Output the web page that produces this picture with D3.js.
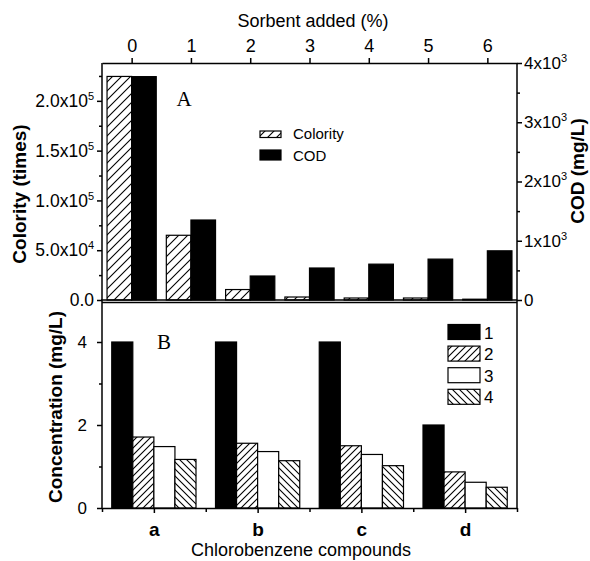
<!DOCTYPE html>
<html><head><meta charset="utf-8">
<script src="https://cdn.jsdelivr.net/npm/d3@7"></script>
<style>body{margin:0;background:#fff}svg{display:block}text{font-family:"Liberation Sans",Arial,sans-serif}</style>
</head><body><svg id="c" width="590" height="561"></svg>
<script>
// ---- data ----
const sorbent = [0,1,2,3,4,5,6];
const colority = [224500, 65000, 10500, 3000, 2000, 2000, 800];
const cod = [3770, 1350, 405, 540, 605, 690, 830];
const leftTicks = [0, 5e4, 1e5, 1.5e5, 2e5];
const leftTickLabels = [["0.0",""],["5.0x10","4"],["1.0x10","5"],["1.5x10","5"],["2.0x10","5"]];
const rightTicks = [0,1000,2000,3000,4000];
const rightTickLabels = [["0",""],["1x10","3"],["2x10","3"],["3x10","3"],["4x10","3"]];
const compounds = ["a","b","c","d"];
const conc1 = [4.0,4.0,4.0,2.0];
const conc2 = [1.71,1.56,1.50,0.87];
const conc3 = [1.48,1.36,1.29,0.62];
const conc4 = [1.17,1.14,1.02,0.50];
const concTicks = [0,2,4];
const seriesB = ["1","2","3","4"];
const seriesA = ["Colority","COD"];

const svg = d3.select("#c");
const defs = svg.append("defs");
function hatch(id, size, dir){
  const p = defs.append("pattern").attr("id",id).attr("patternUnits","userSpaceOnUse")
    .attr("width",size).attr("height",size);
  p.append("rect").attr("width",size).attr("height",size).attr("fill","#fff");
  const s=size;
  const d = dir==="/" ? `M0,${s} L${s},0 M${-s/4},${s/4} L${s/4},${-s/4} M${s*3/4},${s*5/4} L${s*5/4},${s*3/4}`
                      : `M0,0 L${s},${s} M${-s/4},${s*3/4} L${s/4},${s*5/4} M${s*3/4},${-s/4} L${s*5/4},${s/4}`;
  p.append("path").attr("d",d).attr("stroke","#000").attr("stroke-width",1.1);
}
hatch("hA", 9, "/");
hatch("h2", 7, "/");
hatch("h4", 7, "\\");

// ---- scales ----
const L=102, R=517, T=63, M=300, B=508;
const xTop = d3.scaleLinear().domain([-0.5,6.5]).range([L,R]);
const yL = d3.scaleLinear().domain([0,2.38e5]).range([M,T]);
const yR = d3.scaleLinear().domain([0,4000]).range([M,T]);
const xB = d3.scaleLinear().domain([-0.5,3.5]).range([L,R]);
const yB = d3.scaleLinear().domain([0,5]).range([B,M+0.5]);

const wA = 0.415, wB = 0.203;

// ---- top panel bars ----
const gA = svg.append("g");
gA.selectAll("rect.col").data(sorbent).join("rect")
  .attr("x",(d)=>xTop(d-wA)).attr("width",xTop(wA)-xTop(0))
  .attr("y",(d,i)=>yL(colority[i])).attr("height",(d,i)=>M-yL(colority[i]))
  .attr("fill","url(#hA)").attr("stroke","#000").attr("stroke-width",1.2);
gA.selectAll("rect.cod").data(sorbent).join("rect")
  .attr("x",(d)=>xTop(d)).attr("width",xTop(wA)-xTop(0))
  .attr("y",(d,i)=>yR(cod[i])).attr("height",(d,i)=>M-yR(cod[i]))
  .attr("fill","#000").attr("stroke","#000").attr("stroke-width",1.2);

// ---- bottom panel bars ----
const concs=[conc1,conc2,conc3,conc4];
const fills=["#000","url(#h2)","#fff","url(#h4)"];
const gB = svg.append("g");
concs.forEach((arr,k)=>{
  gB.selectAll(null).data(compounds).join("rect")
    .attr("x",(d,i)=>xB(i+(k-2)*wB)).attr("width",xB(wB)-xB(0))
    .attr("y",(d,i)=>yB(arr[i])).attr("height",(d,i)=>B-yB(arr[i]))
    .attr("fill",fills[k]).attr("stroke","#000").attr("stroke-width",1.2);
});

// ---- axes ----
function styleAxis(g){
  g.selectAll("path,line").attr("stroke","#000").attr("stroke-width",1.5);
  g.attr("font-family",null).attr("font-size",null);
  g.selectAll("text").attr("fill","#000");
}
function supLabels(g, labels){
  g.selectAll(".tick text").each(function(d,i){
    const t=d3.select(this); t.text(null);
    t.append("tspan").text(labels[i][0]);
    if(labels[i][1]) t.append("tspan").attr("dy",-7).attr("font-size",11).text(labels[i][1]);
  });
}
const fmtInt = d3.format("d");
// top x axis
const axT = svg.append("g").attr("transform",`translate(0,${T})`)
  .call(d3.axisTop(xTop).tickValues(sorbent).tickFormat(fmtInt).tickSize(5).tickSizeOuter(0).tickPadding(6));
styleAxis(axT); axT.selectAll("text").attr("font-size",18);
// left axis A
const axL = svg.append("g").attr("transform",`translate(${L},0)`)
  .call(d3.axisLeft(yL).tickValues(leftTicks).tickSize(5).tickSizeOuter(0).tickPadding(3));
styleAxis(axL); axL.selectAll("text").attr("font-size",17.5); supLabels(axL,leftTickLabels);
axL.select("path").remove();
svg.append("g").attr("transform",`translate(${L},0)`)
  .call(d3.axisLeft(yL).tickValues(d3.range(2.5e4,2.3e5,5e4)).tickSize(3).tickFormat(()=>""))
  .call(g=>{g.select("path").remove(); styleAxis(g);});
// right axis A
const axR = svg.append("g").attr("transform",`translate(${R},0)`)
  .call(d3.axisRight(yR).tickValues(rightTicks).tickSize(5).tickSizeOuter(0).tickPadding(2));
styleAxis(axR); axR.selectAll("text").attr("font-size",17); supLabels(axR,rightTickLabels);
axR.select("path").remove();
svg.append("g").attr("transform",`translate(${R},0)`)
  .call(d3.axisRight(yR).tickValues(d3.range(500,4000,1000)).tickSize(3).tickFormat(()=>""))
  .call(g=>{g.select("path").remove(); styleAxis(g);});
// left axis B
const axLB = svg.append("g").attr("transform",`translate(${L},0)`)
  .call(d3.axisLeft(yB).tickValues(concTicks).tickFormat(fmtInt).tickSize(5).tickSizeOuter(0).tickPadding(10));
styleAxis(axLB); axLB.selectAll("text").attr("font-size",17); axLB.select("path").remove();
svg.append("g").attr("transform",`translate(${L},0)`)
  .call(d3.axisLeft(yB).tickValues([1,3]).tickSize(3).tickFormat(()=>""))
  .call(g=>{g.select("path").remove(); styleAxis(g);});
// bottom axis B
const axBB = svg.append("g").attr("transform",`translate(0,${B})`)
  .call(d3.axisBottom(xB).tickValues([0,1,2,3]).tickSize(5).tickSizeOuter(0).tickPadding(10)
    .tickFormat((d)=>compounds[d]));
styleAxis(axBB); axBB.selectAll("text").attr("font-size",19).attr("font-weight","bold");
svg.append("g").attr("transform",`translate(0,${B})`)
  .call(d3.axisBottom(xB).tickValues([-0.5,0.5,1.5,2.5,3.5]).tickSize(4).tickFormat(()=>""))
  .call(g=>{g.select("path").remove(); styleAxis(g);});

// frame lines
const frame = svg.append("g").attr("stroke","#000").attr("stroke-width",1.5);
frame.append("line").attr("x1",L).attr("x2",L).attr("y1",T).attr("y2",B);
frame.append("line").attr("x1",R).attr("x2",R).attr("y1",T).attr("y2",B);
frame.append("line").attr("x1",L-1).attr("x2",R).attr("y1",M).attr("y2",M);
frame.append("line").attr("x1",L).attr("x2",R).attr("y1",M+2.5).attr("y2",M+2.5);

// ---- titles ----
svg.append("text").attr("x",313).attr("y",26.5).attr("text-anchor","middle").attr("font-size",18).text("Sorbent added (%)");
svg.append("text").attr("x",301).attr("y",556).attr("text-anchor","middle").attr("font-size",18).text("Chlorobenzene compounds");
svg.append("text").attr("transform","translate(25.5,194) rotate(-90)").attr("text-anchor","middle")
  .attr("font-size",19).attr("font-weight","bold").text("Colority (times)");
svg.append("text").attr("transform","translate(584,171) rotate(-90)").attr("text-anchor","middle")
  .attr("font-size",19).attr("font-weight","bold").text("COD (mg/L)");
svg.append("text").attr("transform","translate(62,407) rotate(-90)").attr("text-anchor","middle")
  .attr("font-size",19).attr("font-weight","bold").text("Concentration (mg/L)");
svg.append("text").attr("x",184).attr("y",106).attr("text-anchor","middle").attr("font-size",21)
  .style("font-family","'Liberation Serif','Times New Roman',serif").text("A");
svg.append("text").attr("x",164).attr("y",348.5).attr("text-anchor","middle").attr("font-size",21)
  .style("font-family","'Liberation Serif','Times New Roman',serif").text("B");

// ---- legends ----
const legA = svg.append("g");
const legAfill=["url(#hA)","#000"], legAy=[131,150], legAh=[6.5,10], legAbase=[138.7,160.5];
seriesA.forEach((s,i)=>{
  legA.append("rect").attr("x",260).attr("y",legAy[i]).attr("width",21).attr("height",legAh[i])
    .attr("fill",legAfill[i]).attr("stroke","#000").attr("stroke-width",1.2);
  legA.append("text").attr("x",293).attr("y",legAbase[i]).attr("font-size",15).text(s);
});
const legB = svg.append("g");
seriesB.forEach((s,i)=>{
  const y0=324.5+i*21.6;
  legB.append("rect").attr("x",448).attr("y",y0).attr("width",32).attr("height",15)
    .attr("fill",fills[i]).attr("stroke","#000").attr("stroke-width",1.2);
  legB.append("text").attr("x",484).attr("y",y0+14).attr("font-size",17).text(s);
});
</script></body></html>
